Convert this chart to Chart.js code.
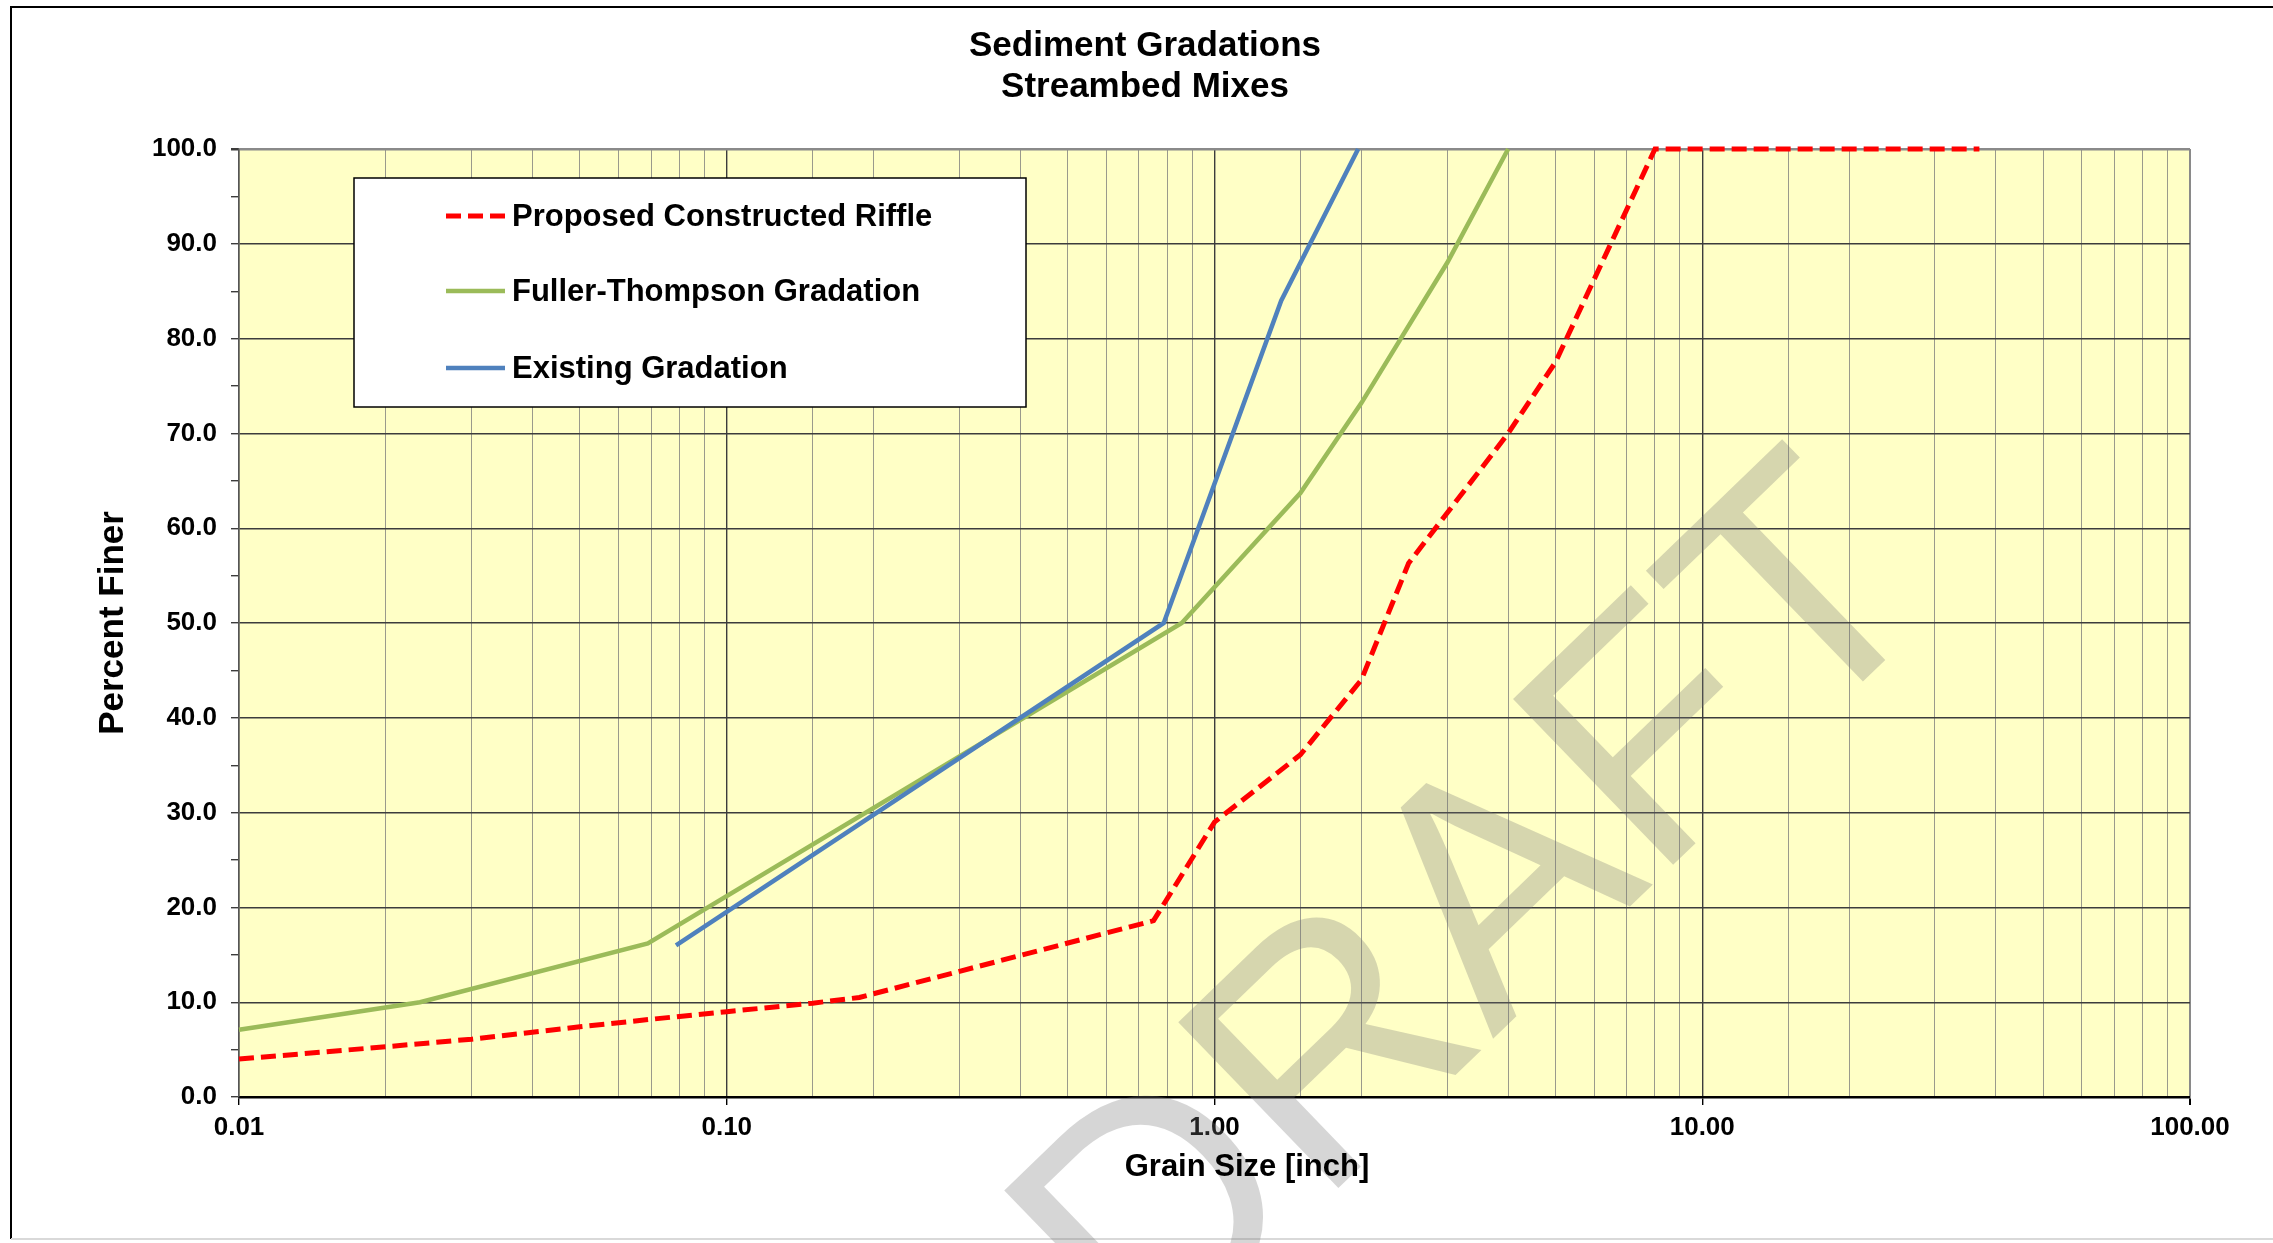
<!DOCTYPE html>
<html>
<head>
<meta charset="utf-8">
<script src="https://cdn.jsdelivr.net/npm/chart.js@4.4.0/dist/chart.umd.min.js"></script>
<style>
  html, body { margin: 0; padding: 0; background: #ffffff; }
  canvas { display: block; }
</style>
</head>
<body>
<canvas id="c" width="2273" height="1243"></canvas>
<script>
// ---------------- data ----------------
const titleLines = ['Sediment Gradations', 'Streambed Mixes'];
const xAxisTitle = 'Grain Size [inch]';
const yAxisTitle = 'Percent Finer';
const watermarkText = 'DRAFT';

const seriesNames = ['Proposed Constructed Riffle', 'Fuller-Thompson Gradation', 'Existing Gradation'];

const riffleSize = [0.01, 0.02, 0.03, 0.05, 0.07, 0.10, 0.15, 0.187, 0.75, 1.0, 1.5, 2.0, 2.5, 4.0, 5.0, 8.0, 37.0];
const rifflePct  = [4.0, 5.3, 6.1, 7.4, 8.2, 9.0, 9.9, 10.5, 18.6, 29.0, 36.1, 44.0, 56.3, 70.0, 77.5, 100.0, 100.0];

const fullerSize = [0.01, 0.0235, 0.0689, 0.857, 1.5, 2.0, 3.0, 4.0];
const fullerPct  = [7.1, 10.0, 16.2, 50.0, 63.7, 73.2, 88.0, 100.0];

const existSize = [0.0787, 0.787, 1.37, 1.97];
const existPct  = [16.0, 50.0, 84.0, 100.0];

const xMin = 0.01, xMax = 100;
const yMin = 0, yMax = 100, yStep = 5, yLabelStep = 10;

// ---------------- styles ----------------
const FONT = '"Liberation Sans", Arial, Helvetica, sans-serif';
const colRed = '#FF0000', colGreen = '#9BBB59', colBlue = '#4F81BD';

function pts(xs, ys) { return xs.map((x, i) => ({ x: x, y: ys[i] })); }
function isDecade(v) { const l = Math.log10(v); return Math.abs(l - Math.round(l)) < 1e-6; }

const plotBg = {
  id: 'plotBg',
  beforeDraw(chart) {
    const { ctx, chartArea: a } = chart;
    ctx.save();
    ctx.fillStyle = '#FFFFFF';
    ctx.fillRect(0, 0, chart.width, chart.height);
    ctx.strokeStyle = '#000000';
    ctx.lineWidth = 2;
    ctx.beginPath();
    ctx.moveTo(11, chart.height - 4); ctx.lineTo(11, 7); ctx.lineTo(chart.width + 5, 7);
    ctx.stroke();
    ctx.strokeStyle = '#d9d9d9';
    ctx.beginPath();
    ctx.moveTo(11, chart.height - 4); ctx.lineTo(chart.width, chart.height - 4);
    ctx.stroke();
    ctx.fillStyle = '#FFFFC6';
    ctx.fillRect(a.left, a.top, a.right - a.left, a.bottom - a.top);
    ctx.restore();
  }
};

const texts = {
  id: 'texts',
  afterDraw(chart) {
    const { ctx } = chart;
    ctx.save();
    ctx.fillStyle = '#000000';
    ctx.textAlign = 'center';
    ctx.textBaseline = 'middle';
    ctx.font = 'bold 35px ' + FONT;
    ctx.fillText(titleLines[0], 1145, 46);
    ctx.fillText(titleLines[1], 1145, 87);
    ctx.font = 'bold 31px ' + FONT;
    ctx.fillText(xAxisTitle, 1247, 1167);
    ctx.translate(113, 623);
    ctx.rotate(-Math.PI / 2);
    ctx.font = 'bold 35px ' + FONT;
    ctx.fillText(yAxisTitle, 0, 0);
    ctx.restore();
  }
};

const boxLegend = {
  id: 'boxLegend',
  afterDatasetsDraw(chart) {
    const { ctx } = chart;
    const bx = 354, by = 178, bw = 672, bh = 229;
    ctx.save();
    ctx.fillStyle = '#FFFFFF';
    ctx.fillRect(bx, by, bw, bh);
    ctx.strokeStyle = '#000000';
    ctx.lineWidth = 1.5;
    ctx.strokeRect(bx, by, bw, bh);
    const rows = [216, 291, 368];
    chart.data.datasets.forEach((ds, i) => {
      const y = rows[i];
      ctx.strokeStyle = ds.borderColor;
      ctx.lineWidth = ds.borderWidth;
      ctx.setLineDash(ds.borderDash || []);
      ctx.beginPath();
      ctx.moveTo(446, y); ctx.lineTo(505, y);
      ctx.stroke();
      ctx.setLineDash([]);
      ctx.fillStyle = '#000000';
      ctx.font = 'bold 31px ' + FONT;
      ctx.textBaseline = 'middle';
      ctx.textAlign = 'left';
      ctx.fillText(ds.label, 512, y + 1);
    });
    ctx.restore();
  }
};

const watermark = {
  id: 'watermark',
  afterDraw(chart) {
    const { ctx } = chart;
    ctx.save();
    ctx.translate(1482, 921);
    ctx.rotate(-44 * Math.PI / 180);
    ctx.font = '335px ' + FONT;
    ctx.fillStyle = 'rgba(120,120,120,0.30)';
    ctx.textAlign = 'center';
    ctx.textBaseline = 'middle';
    ctx.fillText(watermarkText, 0, 0);
    ctx.restore();
  }
};

new Chart(document.getElementById('c'), {
  type: 'line',
  data: {
    datasets: [
      { label: seriesNames[0], data: pts(riffleSize, rifflePct), borderColor: colRed, borderWidth: 5,
        borderDash: [15, 7], pointRadius: 0, tension: 0, clip: 10, order: 0, fill: false },
      { label: seriesNames[1], data: pts(fullerSize, fullerPct), borderColor: colGreen, borderWidth: 4.5,
        pointRadius: 0, tension: 0, clip: 10, order: 2, fill: false },
      { label: seriesNames[2], data: pts(existSize, existPct), borderColor: colBlue, borderWidth: 4.5,
        pointRadius: 0, tension: 0, clip: 10, order: 1, fill: false }
    ]
  },
  options: {
    responsive: false,
    animation: false,
    devicePixelRatio: 1,
    layout: { padding: { left: 0, right: 83, top: 149, bottom: 0 } },
    plugins: {
      legend: { display: false },
      tooltip: { enabled: false },
      title: { display: false }
    },
    scales: {
      x: {
        type: 'logarithmic',
        min: xMin, max: xMax,
        afterFit(s) { s.height = 146; },
        title: { display: false },
        ticks: {
          autoSkip: false, maxRotation: 0, minRotation: 0, padding: 7, color: '#000000',
          font: { family: FONT, size: 26, weight: 'bold', lineHeight: 1.2 },
          callback(v) { return isDecade(v) ? Number(v).toFixed(2) : ''; }
        },
        grid: {
          drawOnChartArea: true, tickLength: 8,
          color(c) { const v = c.tick.value; if (v >= xMax - 1e-9) return '#8a8a8a'; return isDecade(v) ? '#3c3c3c' : '#9a9a8c'; },
          lineWidth(c) { const v = c.tick.value; if (v >= xMax - 1e-9) return 2; return isDecade(v) ? 1.4 : 1; },
          tickColor(c) { return isDecade(c.tick.value) ? '#000000' : 'rgba(0,0,0,0)'; }
        },
        border: { display: true, color: '#000000', width: 2.5 }
      },
      y: {
        type: 'linear',
        min: yMin, max: yMax,
        afterFit(s) { s.width = 239; },
        title: { display: false },
        ticks: {
          stepSize: yStep, autoSkip: false, padding: 14, color: '#000000',
          font: { family: FONT, size: 26, weight: 'bold' },
          callback(v) { return (Math.round(v) % yLabelStep === 0) ? Number(v).toFixed(1) : ''; }
        },
        grid: {
          drawOnChartArea: true, tickLength: 8,
          color(c) { const v = Math.round(c.tick.value); if (v === yMax) return '#8a8a8a'; return (v % yLabelStep === 0) ? '#3c3c3c' : 'rgba(0,0,0,0)'; },
          lineWidth(c) { const v = Math.round(c.tick.value); return v === yMax ? 2.5 : 1.4; },
          tickColor: '#3c3c3c'
        },
        border: { display: true, color: '#555555', width: 1.5 }
      }
    }
  },
  plugins: [plotBg, boxLegend, watermark, texts]
});
</script>
</body>
</html>
